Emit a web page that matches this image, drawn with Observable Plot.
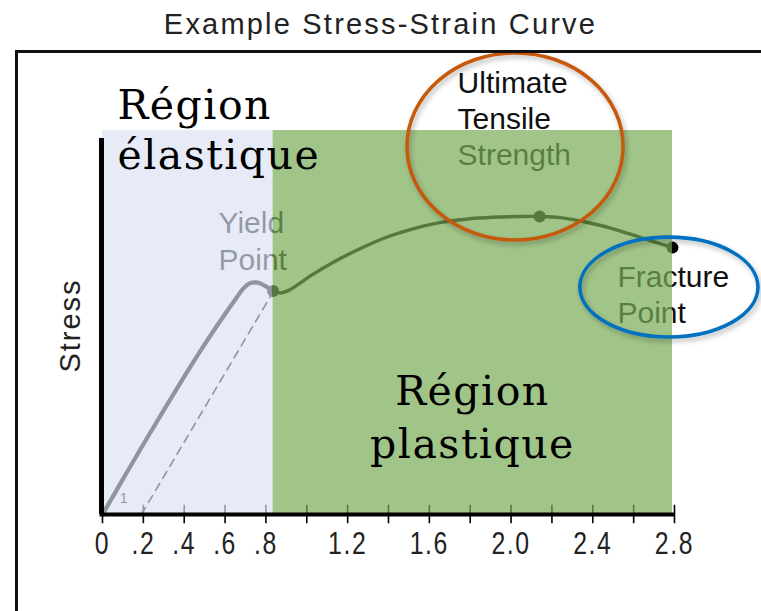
<!DOCTYPE html>
<html>
<head>
<meta charset="utf-8">
<script src="https://cdn.jsdelivr.net/npm/d3@7"></script>
<script src="https://cdn.jsdelivr.net/npm/@observablehq/plot@0.6"></script>
<style>
  body { margin: 0; background: #fff; }
  #wrap { position: relative; width: 761px; height: 611px; overflow: hidden; background: #fff; }
  #wrap svg { position: absolute; left: 0; top: 0; }
  #frame { position: absolute; left: 15px; top: 50px; width: 760px; height: 600px;
           border-top: 3px solid #111; border-left: 3px solid #111; pointer-events: none; }
</style>
</head>
<body>
<div id="wrap"><div id="frame"></div></div>
<script>
// ---------------- data ----------------
const chartTitle = "Example Stress-Strain Curve";
const yLabel = "Stress";

// elastic part of the curve (strain, stress)
const elasticStrain = [0, 0.1, 0.2, 0.3, 0.4, 0.5, 0.6, 0.65, 0.69, 0.72, 0.76, 0.8, 0.835];
const elasticStress = [0, 9.2, 18.3, 27.2, 35.9, 44.3, 52.2, 56.0, 58.9, 60.2, 60.4, 59.4, 58.2];

// plastic part of the curve
const plasticStrain = [0.835, 0.87, 0.91, 0.96, 1.02, 1.13, 1.26, 1.39, 1.52, 1.65, 1.78, 1.91, 2.04, 2.14, 2.24, 2.37, 2.5, 2.63, 2.79];
const plasticStress = [58.2, 57.7, 58.3, 60.0, 62.2, 65.7, 69.2, 72.2, 74.4, 76.0, 76.9, 77.4, 77.6, 77.6, 77.3, 76.1, 74.4, 72.2, 69.5];

// offset (unloading) line
const offsetStrain = [0.19, 0.83];
const offsetStress = [0, 57.5];

// key points: yield, ultimate tensile strength, fracture
const pointNames  = ["Yield", "UTS", "Fracture"];
const pointStrain = [0.835, 2.14, 2.79];
const pointStress = [58.2, 77.6, 69.5];

// regions
const regionNames = ["élastique", "plastique"];
const regionStart = [0, 0.835];
const regionEnd   = [0.835, 2.79];
const regionTop   = 100;

// axis
const tickStrain = [0, 0.2, 0.4, 0.6, 0.8, 1.0, 1.2, 1.4, 1.6, 1.8, 2.0, 2.2, 2.4, 2.6, 2.8];
const labelStrain = [0, 0.2, 0.4, 0.6, 0.8, 1.2, 1.6, 2.0, 2.4, 2.8];
const labelText   = ["0", ".2", ".4", ".6", ".8", "1.2", "1.6", "2.0", "2.4", "2.8"];

// annotations (english, under the overlays)
const annotText = ["Yield", "Point", "Ultimate", "Tensile", "Strength", "Fracture", "Point"];
const annotX    = [0.568, 0.568, 1.738, 1.738, 1.738, 2.521, 2.521];
const annotY    = [73.4, 63.8, 109.8, 100.4, 91.0, 59.3, 49.9];

// region labels (french, on top)
const frText   = ["Région", "élastique", "Région", "plastique"];
const frX      = [0.073, 0.073, 1.811, 1.811];
const frY      = [103.1, 90.1, 28.4, 14.6];
const frAnchor = ["start", "start", "middle", "middle"];

// highlight ellipses
const ellCx = [2.022, 2.775];
const ellCy = [95.7, 59.1];
const ellRx = [0.529, 0.436];
const ellRy = [24.35, 13.0];
const ellColor = ["#c55a11", "#0070c0"];

// ---------------- tables ----------------
const elastic = elasticStrain.map((x, i) => ({x, y: elasticStress[i]}));
const plastic = plasticStrain.map((x, i) => ({x, y: plasticStress[i]}));
const offset  = offsetStrain.map((x, i) => ({x, y: offsetStress[i]}));
const points  = pointNames.map((n, i) => ({n, x: pointStrain[i], y: pointStress[i]}));
const regions = regionNames.map((n, i) => ({n, x1: regionStart[i], x2: regionEnd[i]}));
const annots  = annotText.map((t, i) => ({t, x: annotX[i], y: annotY[i]}));
const frLabels = frText.map((t, i) => ({t, x: frX[i], y: frY[i], a: frAnchor[i]}));
const ellipses = ellCx.map((cx, i) => ({cx, cy: ellCy[i], rx: ellRx[i], ry: ellRy[i], c: ellColor[i]}));

const sans = "'Liberation Sans', Arial, sans-serif";
const serif = "'DejaVu Serif', serif";

function ellipseMark(...args) {
  const s = args.find(a => a && typeof a.x === "function" && typeof a.y === "function");
  const g = d3.create("svg:g").attr("aria-label", "ellipses");
  const defs = g.append("defs");
  const f = defs.append("filter").attr("id", "ellShadow").attr("x", "-20%").attr("y", "-20%").attr("width", "140%").attr("height", "140%");
  f.append("feDropShadow").attr("dx", 2).attr("dy", 3).attr("stdDeviation", 2.5)
    .attr("flood-color", "#000").attr("flood-opacity", 0.28);
  for (const e of ellipses) {
    const cx = s.x(e.cx), cy = s.y(e.cy);
    const rx = Math.abs(s.x(e.cx + e.rx) - cx);
    const ry = Math.abs(s.y(e.cy + e.ry) - cy);
    g.append("ellipse").attr("cx", cx).attr("cy", cy).attr("rx", rx).attr("ry", ry)
      .attr("fill", "none").attr("stroke", e.c).attr("stroke-width", 3.6)
      .attr("filter", "url(#ellShadow)");
  }
  return g.node();
}

const chart = Plot.plot({
  width: 761,
  height: 611,
  marginLeft: 102,
  marginRight: 87,
  marginTop: 130,
  marginBottom: 97,
  x: {domain: [0, 2.8], axis: null},
  y: {domain: [0, 100], axis: null},
  style: {background: "transparent", overflow: "visible"},
  marks: [
    // ticks (partly under overlays)
    Plot.ruleX(tickStrain, {x: d => d, y1: -2.4, y2: 2.4, stroke: "#000", strokeWidth: 1.6}),
    // curves
    Plot.line(offset, {x: "x", y: "y", stroke: "#000", strokeWidth: 1.6, strokeDasharray: "8,6"}),
    Plot.line(elastic, {x: "x", y: "y", stroke: "#000", strokeWidth: 4.2, curve: "catmull-rom"}),
    Plot.line(plastic, {x: "x", y: "y", stroke: "#000", strokeWidth: 3.4, curve: "catmull-rom"}),
    Plot.dot(points, {x: "x", y: "y", r: 6, fill: "#000"}),
    // english annotations
    Plot.text(annots, {x: "x", y: "y", text: "t", textAnchor: "start", lineAnchor: "bottom",
      fontSize: 30, fontFamily: sans, fill: "#111"}),
    Plot.text(["1"], {x: 0.103, y: 4.2, text: d => d, fontSize: 14, fontFamily: sans, fill: "#000"}),
    // semi-transparent overlays
    Plot.rect([regions[0]], {x1: "x1", x2: "x2", y1: 0, y2: regionTop, fill: "#d9e1f3", fillOpacity: 0.66}),
    Plot.rect([regions[1]], {x1: "x1", x2: "x2", y1: 0, y2: regionTop, fill: "#79ab56", fillOpacity: 0.7}),
    // axis lines
    Plot.ruleX([0], {x: d => d, y1: 0, y2: 97.9, dx: -1, stroke: "#000", strokeWidth: 5}),
    Plot.ruleY([0], {y: d => d, x1: -0.012, x2: 2.8, stroke: "#000", strokeWidth: 4}),
    // tick labels
    Plot.text(labelStrain, {x: d => d, text: (d, i) => labelText[i], frameAnchor: "bottom", lineAnchor: "bottom", dy: 39,
      fontSize: 31, fontFamily: sans, fill: "#222"}),
    // y label
    Plot.text([yLabel], {text: d => d, frameAnchor: "left", textAnchor: "middle", lineAnchor: "middle", dx: -32, dy: 3, rotate: -90,
      fontSize: 29, fontFamily: sans, fill: "#222"}),
    // title
    Plot.text([chartTitle], {text: d => d, frameAnchor: "top", textAnchor: "middle", lineAnchor: "bottom", dx: -8, dy: -97,
      fontSize: 29, fontFamily: sans, fill: "#222"}),
    // french region labels
    Plot.text(frLabels.filter(d => d.a === "start"), {x: "x", y: "y", text: "t", textAnchor: "start", lineAnchor: "bottom",
      fontSize: 41, fontFamily: serif, fill: "#000"}),
    Plot.text(frLabels.filter(d => d.a === "middle"), {x: "x", y: "y", text: "t", textAnchor: "middle", lineAnchor: "bottom",
      fontSize: 41, fontFamily: serif, fill: "#000"}),
    // ellipses
    ellipseMark
  ]
});

// typographic fine-tuning (spacing / condensing only)
const sel = d3.select(chart);
sel.selectAll("text").each(function () {
  const t = this.textContent;
  const node = d3.select(this);
  if (t === chartTitle) node.style("letter-spacing", "2.2px");
  else if (t === yLabel) node.style("letter-spacing", "2px");
  else if (frText.includes(t)) node.style("letter-spacing", "1.5px");
  else if (labelText.includes(t) && this.getAttribute("font-size") !== "14") {
    const tr = this.getAttribute("transform") || "";
    node.attr("transform", tr + " scale(0.8,1)").style("letter-spacing", "2px");
  }
});

document.getElementById("wrap").prepend(chart);
</script>
</body>
</html>
